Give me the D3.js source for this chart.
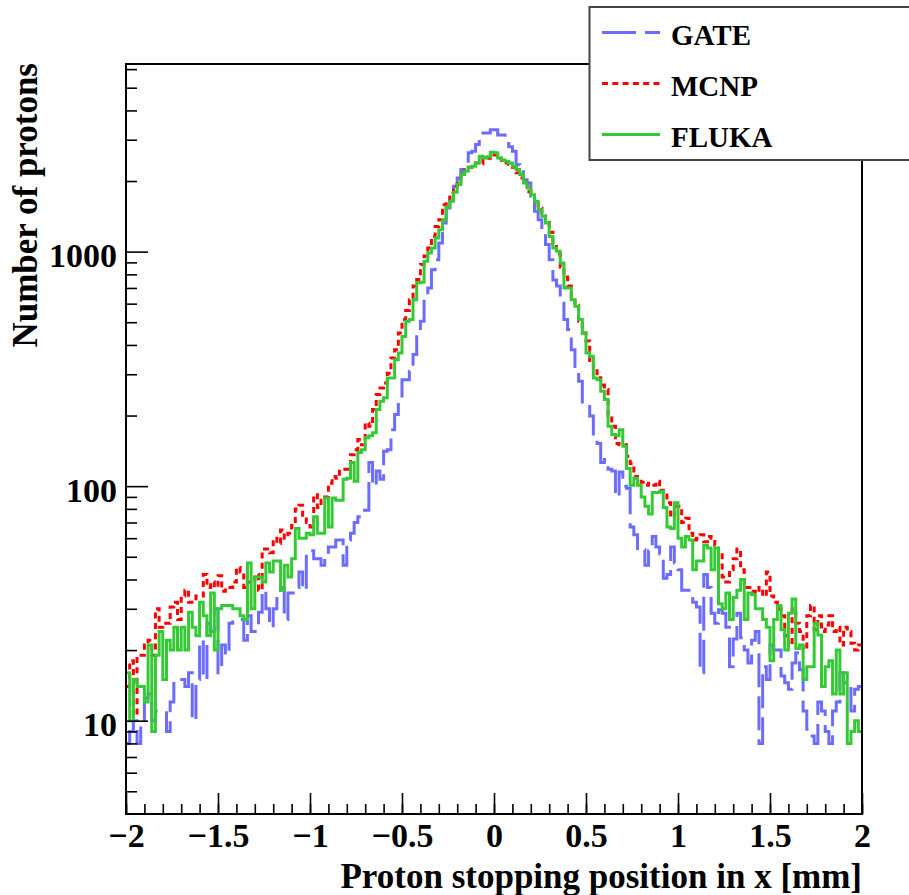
<!DOCTYPE html>
<html><head><meta charset="utf-8">
<script src="https://cdn.jsdelivr.net/npm/d3@7/dist/d3.min.js"></script>
<style>
body{margin:0;background:#fff;}
svg{display:block;font-family:"Liberation Serif","Times New Roman",serif;font-weight:bold;}
</style></head><body>
<svg id="c" width="909" height="895"></svg>
<script>
// ---- data: 200 bins from -2 to 2 mm ----
const xRange = [-2, 2];
const binWidth = 0.02;

const gate = [
8, 9, 10, 8, 10, 12.5, 13, 10, 11, 11,
11, 9, 12, 15, 15, 15, 14, 16, 10, 15,
22, 15, 26, 24, 30, 16, 21, 19, 26, 27,
27, 27, 22, 28, 24, 24, 29, 36, 30, 25,
30, 36, 37, 27, 35, 35, 37, 43, 36, 53,
53, 49, 49, 46, 49, 55, 55, 59, 59, 46,
59, 63, 70, 74, 79, 79, 126, 100, 116, 107,
141, 143, 174, 202, 223, 284, 284, 309, 364, 457,
505, 624, 700, 838, 924, 1089, 1325, 1536, 1750, 1900,
2062, 2240, 2390, 2637, 2680, 2860, 3054, 3206, 3206, 3311,
3311, 3140, 3140, 3080, 2800, 2680, 2349, 2190, 2027, 1963,
1722, 1486, 1368, 1240, 1072, 924, 757, 713, 624, 513,
465, 382, 324, 280, 223, 223, 199, 158, 152, 126,
130, 118, 116, 90, 115, 100, 98, 67, 62, 53,
53.5, 46, 53, 61, 55, 51.5, 40.5, 42, 55, 47,
44, 36, 36, 34, 32, 30.5, 16, 42, 37, 28.7,
26, 29.7, 28.7, 25, 17, 22.3, 28.7, 22.6, 20, 17.6,
22, 24, 8, 17, 15, 21, 20, 20, 15.5, 14.5,
13.6, 17.6, 19.5, 16.5, 11, 9.2, 8.6, 8, 12, 11,
9, 8, 11, 12, 16, 14.5, 14, 11, 13.6, 14
];

const mcnp = [
14, 18, 10.5, 19, 19, 21, 22, 19, 30, 25,
26, 26, 30.5, 32, 27, 34, 36, 32, 32, 34,
34, 42, 37, 39, 37, 41.5, 35.6, 37, 37, 39,
45, 43, 37, 39, 39, 42, 36, 54, 54, 52,
60, 57, 65, 60, 63, 68, 80, 83, 74, 70,
67, 92, 81, 87, 90, 103, 110, 108, 118, 118,
118, 136, 143, 158, 150, 186, 180, 212, 246, 262,
275, 303, 352, 382, 450, 513, 561, 624, 713, 761,
881, 957, 1036, 1161, 1281, 1368, 1585, 1639, 1778, 1900,
1995, 2167, 2230, 2289, 2370, 2390, 2370, 2490, 2500, 2610,
2580, 2500, 2390, 2390, 2350, 2290, 2170, 2060, 1960, 1800,
1720, 1640, 1530, 1420, 1330, 1210, 1080, 980, 860, 780,
713, 640, 590, 505, 450, 416, 338, 320, 290, 270,
258, 200, 180, 152, 150, 150, 134, 125, 110, 108,
104, 101, 103, 101, 105, 96, 94, 85, 74, 82,
82, 70, 73, 63, 59, 60, 62, 58, 61, 60,
56, 51, 41, 39, 44, 49, 54, 44, 37, 37,
35.6, 35, 37, 34, 43, 34, 32, 30, 28, 23,
21, 30, 26, 24, 20, 28, 31, 24.4, 28, 24,
25.6, 28, 24, 25, 21, 25, 24, 21.4, 20, 21
];

const fluka = [
16, 10, 15, 14, 14, 12, 21, 9, 19, 24,
15, 22, 20, 25, 20, 25, 20, 29, 25, 23,
32, 28, 23, 35, 20, 30, 31, 31, 31, 30,
30, 28, 27, 47, 30, 41, 41, 39, 47, 43,
48, 48, 36, 46, 41, 49, 66, 60, 60, 63,
62, 74, 63, 63, 89, 67, 89, 87, 87, 107,
108, 126, 105, 139, 143, 161, 164, 169, 212, 230,
238, 289, 289, 346, 370, 435, 505, 513, 624, 736,
740, 910, 987, 1036, 1144, 1240, 1368, 1551, 1639, 1791,
1932, 2130, 2201, 2289, 2310, 2390, 2550, 2510, 2540, 2655,
2637, 2505, 2460, 2427, 2390, 2310, 2240, 2130, 1963, 1869,
1750, 1639, 1510, 1415, 1325, 1161, 1036, 1003, 895, 700,
700, 624, 585, 513, 450, 370, 358, 289, 284, 254,
234, 180, 166, 164, 174, 148, 119, 101, 108, 101,
90, 82, 76, 94, 94, 95, 81, 67, 66, 85,
60, 55, 61, 59, 44, 48, 48, 56, 54.5, 44,
54.5, 31.5, 30, 35, 27, 33.5, 36, 40, 27, 35,
34.5, 30, 30, 27, 25, 18, 27, 31, 24.4, 20,
28.7, 33, 20.3, 21, 15, 17, 17, 26, 23.2, 14,
17, 18, 13, 20, 13, 16, 8, 9, 10, 9
];

const seriesNames = ["GATE", "MCNP", "FLUKA"];
const xTicks = [-2, -1.5, -1, -0.5, 0, 0.5, 1, 1.5, 2];
const xTickLabels = ["\u22122", "\u22121.5", "\u22121", "\u22120.5", "0", "0.5", "1", "1.5", "2"];
const yTicks = [10, 100, 1000];
const yTickLabels = ["10", "100", "1000"];
const yMinorTicks = [5,6,7,8,9,20,30,40,50,60,70,80,90,200,300,400,500,600,700,800,900,2000,3000,4000,5000,6000];
const xTitle = "Proton stopping position in x [mm]";
const yTitle = "Number of protons";

// ---- layout / styles ----
const L = 126, R = 862, T = 64, B = 814;
const styles = {
  GATE:  {color: "#6c6cff", dash: "34 9"},
  MCNP:  {color: "#ff0000", dash: "6 4.3"},
  FLUKA: {color: "#36c936", dash: null}
};
const dataBy = {GATE: gate, MCNP: mcnp, FLUKA: fluka};

const svg = d3.select("#c");
svg.append("rect").attr("width", 909).attr("height", 895).attr("fill", "#fff");

const x = d3.scaleLinear().domain(xRange).range([L, R]);
const y = d3.scaleLog().domain([4, 6310]).range([B, T]);

svg.append("clipPath").attr("id", "clip")
  .append("rect").attr("x", L).attr("y", T).attr("width", R - L).attr("height", B - T);

const line = d3.line().x(d => x(d[0])).y(d => y(d[1]));
function stepPoints(vals) {
  const pts = [];
  vals.forEach((v, i) => {
    const x0 = xRange[0] + i * binWidth, x1 = x0 + binWidth;
    pts.push([x0, v], [x1, v]);
  });
  return pts;
}

const g = svg.append("g").attr("clip-path", "url(#clip)");
seriesNames.forEach(name => {
  const st = styles[name];
  g.append("path")
    .attr("d", line(stepPoints(dataBy[name])))
    .attr("fill", "none")
    .attr("stroke", st.color)
    .attr("stroke-width", 3)
    .attr("stroke-linejoin", "miter")
    .attr("stroke-linecap", "butt")
    .attr("stroke-dasharray", st.dash);
});

// frame
svg.append("rect").attr("x", L).attr("y", T).attr("width", R - L).attr("height", B - T)
  .attr("fill", "none").attr("stroke", "#000").attr("stroke-width", 2);

// x axis
const xMinor = d3.range(-20, 21).map(k => k / 10);
const gxMinor = svg.append("g").attr("transform", `translate(0,${B})`)
  .call(d3.axisBottom(x).tickValues(xMinor).tickSize(-10).tickFormat(""));
const gx = svg.append("g").attr("transform", `translate(0,${B})`)
  .call(d3.axisBottom(x).tickValues(xTicks).tickSize(-21)
    .tickFormat((d, i) => xTickLabels[i]));
[gxMinor, gx].forEach(a => {
  a.select(".domain").remove();
  a.selectAll("line").attr("stroke", "#000").attr("stroke-width", 1.6);
});
gx.selectAll("text").attr("y", 33).attr("dy", 0)
  .attr("font-size", 34).attr("font-family", "Liberation Serif, serif")
  .attr("font-weight", "bold").attr("fill", "#000");

// y axis
const gyMinor = svg.append("g").attr("transform", `translate(${L},0)`)
  .call(d3.axisLeft(y).tickValues(yMinorTicks).tickSize(-11).tickFormat(""));
const gy = svg.append("g").attr("transform", `translate(${L},0)`)
  .call(d3.axisLeft(y).tickValues(yTicks).tickSize(-22)
    .tickFormat((d, i) => yTickLabels[i]));
[gyMinor, gy].forEach(a => {
  a.select(".domain").remove();
  a.selectAll("line").attr("stroke", "#000").attr("stroke-width", 1.6);
});
gy.selectAll("text").attr("x", -9).attr("dy", 15)
  .attr("font-size", 34).attr("font-family", "Liberation Serif, serif")
  .attr("font-weight", "bold").attr("fill", "#000").attr("text-anchor", "end");

// titles
svg.append("text").attr("x", R).attr("y", 888).attr("text-anchor", "end")
  .attr("font-size", 35).attr("fill", "#000").text(xTitle);
svg.append("text").attr("transform", `translate(37,${T - 1}) rotate(-90)`)
  .attr("text-anchor", "end").attr("font-size", 35).attr("fill", "#000").text(yTitle);

// legend
const lg = svg.append("g");
lg.append("rect").attr("x", 589.5).attr("y", 7).attr("width", 330).attr("height", 153)
  .attr("fill", "#fff").attr("stroke", "#444").attr("stroke-width", 2);
const rowsY = [32.5, 83.5, 134.5];
seriesNames.forEach((name, i) => {
  const st = styles[name];
  lg.append("line").attr("x1", 602).attr("x2", 660).attr("y1", rowsY[i]).attr("y2", rowsY[i])
    .attr("stroke", st.color).attr("stroke-width", 3).attr("stroke-dasharray", st.dash);
  lg.append("text").attr("x", 671).attr("y", rowsY[i] + 12).attr("font-size", 29)
    .attr("fill", "#000").text(name);
});
</script>
</body></html>
